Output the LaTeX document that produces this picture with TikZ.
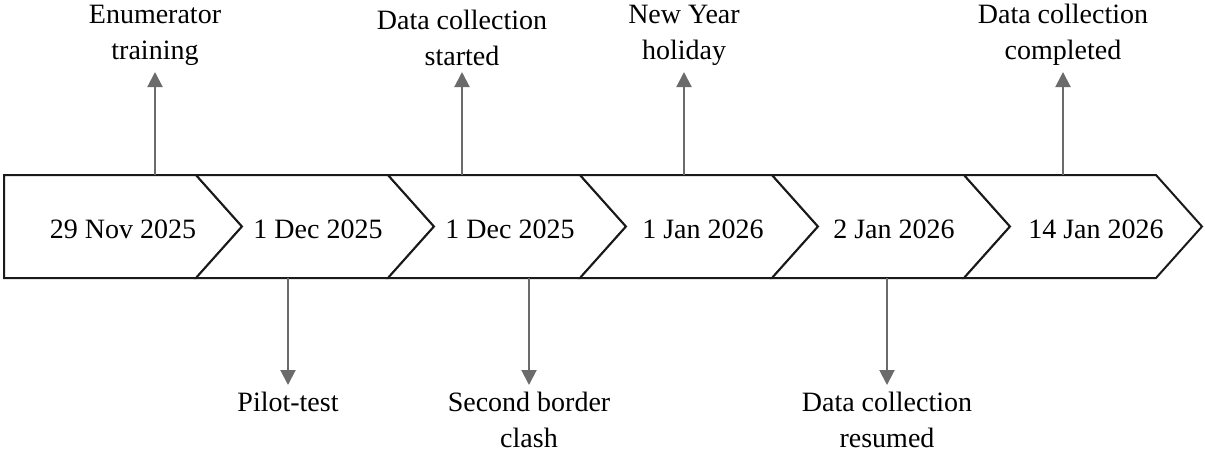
\documentclass[tikz,border=0pt]{standalone}
\usepackage{fontspec}
\setmainfont{Liberation Serif}
\usetikzlibrary{arrows.meta}
\definecolor{boxline}{HTML}{1A1A1A}
\definecolor{arrowgray}{HTML}{6B6B6B}
\begin{document}
\begin{tikzpicture}[x=0.5pt,y=-0.5pt,
  chev/.style={draw=boxline,line width=1pt,fill=white,line join=miter},
  datelbl/.style={anchor=base,inner sep=0pt,font=\fontsize{14}{18}\selectfont},
  evlbl/.style={align=center,inner sep=0pt,font=\fontsize{14}{18}\selectfont},
  evarrow/.style={draw=arrowgray,line width=1pt,-{Triangle[width=7.5pt,length=7.5pt]}}]
\useasboundingbox (0,0) rectangle (1205,457);
% chevrons
\draw[chev] (4,175) -- (196,175) -- (242,226.5) -- (196,278) -- (4,278) -- cycle;
\draw[chev] (196,175) -- (388,175) -- (434,226.5) -- (388,278) -- (196,278) -- (242,226.5) -- cycle;
\draw[chev] (388,175) -- (580,175) -- (626,226.5) -- (580,278) -- (388,278) -- (434,226.5) -- cycle;
\draw[chev] (580,175) -- (772,175) -- (818,226.5) -- (772,278) -- (580,278) -- (626,226.5) -- cycle;
\draw[chev] (772,175) -- (964,175) -- (1010,226.5) -- (964,278) -- (772,278) -- (818,226.5) -- cycle;
\draw[chev] (964,175) -- (1156,175) -- (1202,226.5) -- (1156,278) -- (964,278) -- (1010,226.5) -- cycle;
% dates
\node[datelbl] (d1) at (123,238) {29 Nov 2025};
\node[datelbl] (d2) at (318,238) {1 Dec 2025};
\node[datelbl] (d3) at (510,238) {1 Dec 2025};
\node[datelbl] (d4) at (703,238) {1 Jan 2026};
\node[datelbl] (d5) at (894,238) {2 Jan 2026};
\node[datelbl] (d6) at (1096,238) {14 Jan 2026};
% up events
\coordinate (u1s) at (155,175); \coordinate (u1e) at (155,72);
\coordinate (u2s) at (462,175); \coordinate (u2e) at (462,72);
\coordinate (u3s) at (684,175); \coordinate (u3e) at (684,72);
\coordinate (u4s) at (1063,175); \coordinate (u4e) at (1063,72);
\node[evlbl,anchor=south] (u1) at (155,66) {Enumerator\\training};
\node[evlbl,anchor=south] (u2) at (462,66) {Data collection\\started};
\node[evlbl,anchor=south] (u3) at (684,66) {New Year\\holiday};
\node[evlbl,anchor=south] (u4) at (1063,66) {Data collection\\completed};
\draw[evarrow] (u1s) -- (u1e);
\draw[evarrow] (u2s) -- (u2e);
\draw[evarrow] (u3s) -- (u3e);
\draw[evarrow] (u4s) -- (u4e);
% down events
\coordinate (b1s) at (288,278); \coordinate (b1e) at (288,385);
\coordinate (b2s) at (529,278); \coordinate (b2e) at (529,385);
\coordinate (b3s) at (887,278); \coordinate (b3e) at (887,385);
\node[evlbl,anchor=north] (b1) at (288,392) {Pilot-test};
\node[evlbl,anchor=north] (b2) at (529,392) {Second border\\clash};
\node[evlbl,anchor=north] (b3) at (887,392) {Data collection\\resumed};
\draw[evarrow] (b1s) -- (b1e);
\draw[evarrow] (b2s) -- (b2e);
\draw[evarrow] (b3s) -- (b3e);
\end{tikzpicture}
\end{document}
